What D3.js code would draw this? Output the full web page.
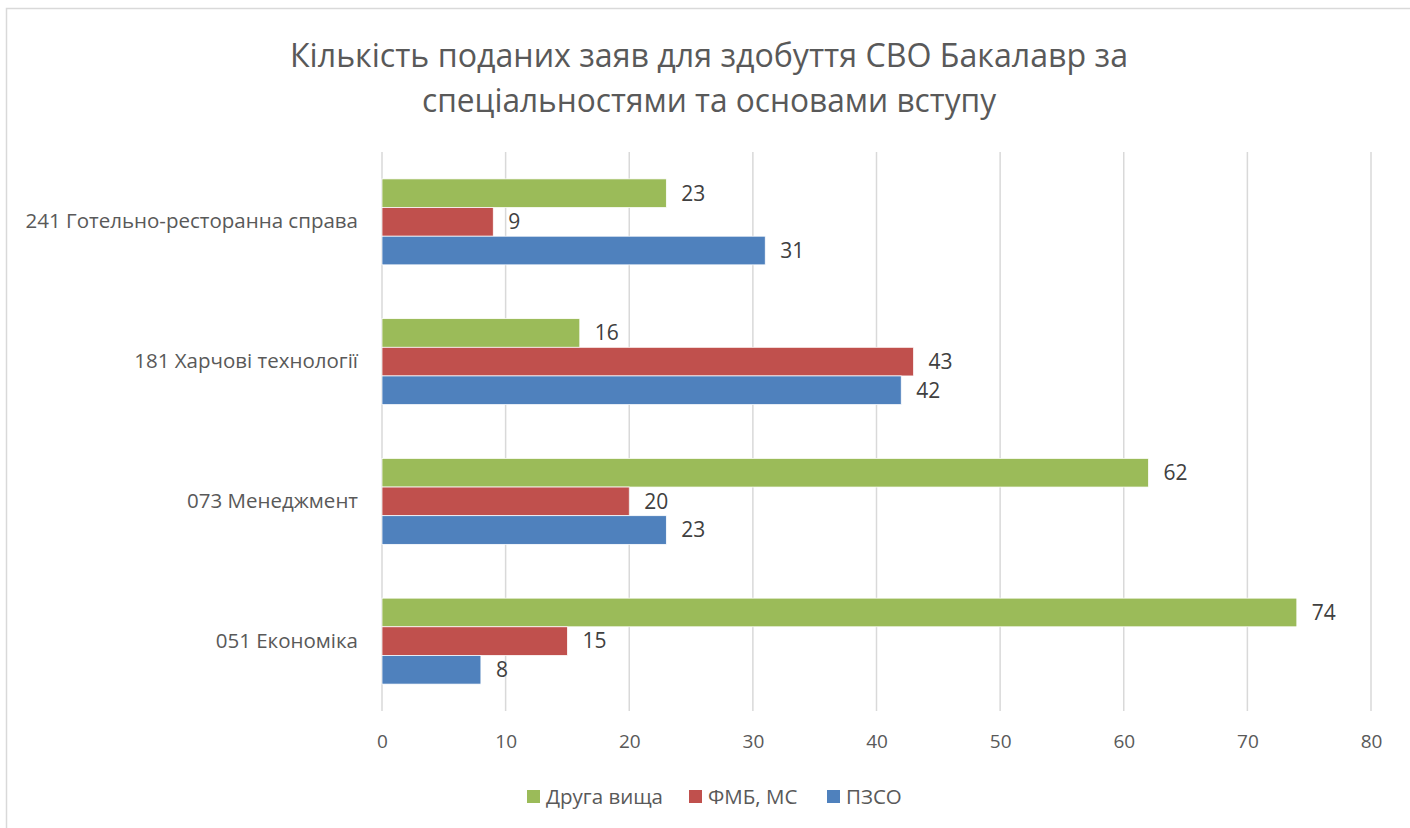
<!DOCTYPE html>
<html>
<head>
<meta charset="utf-8">
<script src="https://cdn.jsdelivr.net/npm/d3@7"></script>
<style>
  body { margin: 0; background: #fff; }
  text { font-family: "Open Sans", "Noto Sans", sans-serif; }
</style>
</head>
<body>
<div class="chart"></div>
<script>
// data
var categories = ["241 Готельно-ресторанна справа", "181 Харчові технології", "073 Менеджмент", "051 Економіка"];
var seriesNames = ["Друга вища", "ФМБ, МС", "ПЗСО"];
var secondHigher = [23, 16, 62, 74];
var fmbMs = [9, 43, 20, 15];
var pzso = [31, 42, 23, 8];
var xTicks = [0, 10, 20, 30, 40, 50, 60, 70, 80];
var colors = ["#9BBB59", "#C0504D", "#4F81BD"];

var seriesValues = [secondHigher, fmbMs, pzso];

var svgWidth = 1410;
var svgHeight = 828;

var margin = { top: 152, right: 39, bottom: 117, left: 382 };
var width = svgWidth - margin.left - margin.right;
var height = svgHeight - margin.top - margin.bottom;

var svg = d3.select(".chart")
  .append("svg")
  .attr("width", svgWidth)
  .attr("height", svgHeight);

// chart border (only left and top visible in the picture)
svg.append("rect")
  .attr("x", 6.5)
  .attr("y", 8.5)
  .attr("width", 1440)
  .attr("height", 860)
  .attr("fill", "none")
  .attr("stroke", "#d9d9d9")
  .attr("stroke-width", 1.5);

// title
var title = svg.append("text")
  .attr("text-anchor", "middle")
  .style("font-size", "32px")
  .style("fill", "#595959");
title.append("tspan").attr("x", 709).attr("y", 67)
  .attr("textLength", 838).attr("lengthAdjust", "spacingAndGlyphs")
  .text("Кількість поданих заяв для здобуття СВО Бакалавр за");
title.append("tspan").attr("x", 709).attr("y", 112)
  .attr("textLength", 574).attr("lengthAdjust", "spacingAndGlyphs")
  .text("спеціальностями та основами вступу");

var chartGroup = svg.append("g")
  .attr("transform", `translate(${margin.left}, ${margin.top})`);

var xScale = d3.scaleLinear().domain([0, 80]).range([0, width]);

var yScale = d3.scaleBand()
  .domain(categories)
  .range([0, height])
  .paddingInner(0.385)
  .paddingOuter(0.1925);

var ySub = d3.scaleBand()
  .domain(seriesNames)
  .range([0, yScale.bandwidth()]);

// gridlines
chartGroup.append("g")
  .selectAll("line")
  .data(xTicks)
  .enter()
  .append("line")
  .attr("x1", d => xScale(d))
  .attr("x2", d => xScale(d))
  .attr("y1", 0)
  .attr("y2", height)
  .attr("stroke", "#d9d9d9")
  .attr("stroke-width", 1.5);

// x axis labels
var bottomAxis = d3.axisBottom(xScale).tickValues(xTicks).tickSize(0).tickPadding(24);
var xAxis = chartGroup.append("g")
  .attr("transform", `translate(0, ${height})`)
  .call(bottomAxis);
xAxis.select(".domain").remove();
xAxis.selectAll("text")
  .style("font-size", "19px")
  .style("fill", "#595959")
  .style("font-family", "'Open Sans', sans-serif");

// category labels
var leftAxis = d3.axisLeft(yScale).tickSize(0).tickPadding(24);
var yAxis = chartGroup.append("g").call(leftAxis);
yAxis.select(".domain").remove();
yAxis.selectAll("text")
  .style("font-size", "20.5px")
  .style("fill", "#595959")
  .style("font-family", "'Open Sans', sans-serif");

// bars
var rows = [];
categories.forEach(function(c, i) {
  seriesNames.forEach(function(s, j) {
    rows.push({ cat: c, series: s, value: seriesValues[j][i], color: colors[j] });
  });
});

chartGroup.selectAll(".bar")
  .data(rows)
  .enter()
  .append("rect")
  .attr("class", "bar")
  .attr("x", 0)
  .attr("y", d => yScale(d.cat) + ySub(d.series))
  .attr("width", d => xScale(d.value))
  .attr("height", ySub.bandwidth())
  .attr("fill", d => d.color)
  .attr("stroke", "#fff")
  .attr("stroke-width", 0.75);

// data labels
chartGroup.selectAll(".lbl")
  .data(rows)
  .enter()
  .append("text")
  .attr("class", "lbl")
  .attr("x", d => xScale(d.value) + 15)
  .attr("y", d => yScale(d.cat) + ySub(d.series) + ySub.bandwidth() / 2)
  .attr("dy", "0.35em")
  .style("font-size", "21px")
  .style("fill", "#404040")
  .text(d => d.value);

// legend
var legendX = [527, 689, 827];
var legend = svg.append("g");
seriesNames.forEach(function(s, j) {
  legend.append("rect")
    .attr("x", legendX[j])
    .attr("y", 790)
    .attr("width", 13)
    .attr("height", 13)
    .attr("fill", colors[j]);
  legend.append("text")
    .attr("x", legendX[j] + 19)
    .attr("y", 797)
    .attr("dy", "0.35em")
    .style("font-size", "20.5px")
    .style("fill", "#595959")
    .text(s);
});
</script>
</body>
</html>
